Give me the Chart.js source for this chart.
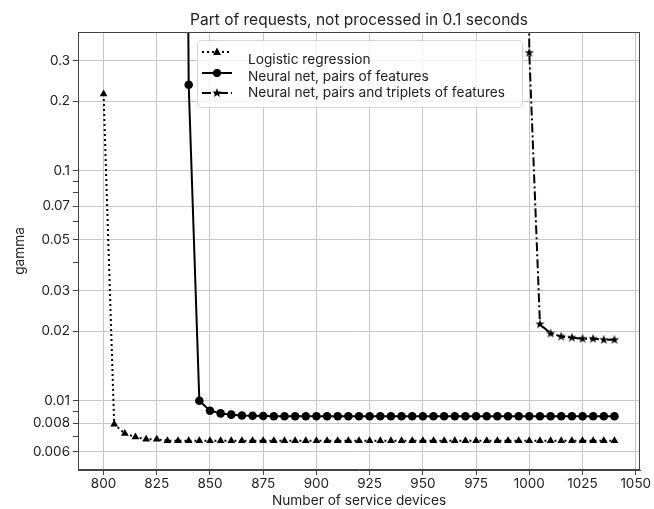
<!DOCTYPE html>
<html>
<head>
<meta charset="utf-8">
<script src="https://cdn.jsdelivr.net/npm/chart.js@4.4.0/dist/chart.umd.min.js"></script>
<style>
  html, body { margin: 0; padding: 0; background: #fff; }
  #wrap { width: 654px; height: 509px; }
</style>
</head>
<body>
<div id="wrap"><canvas id="chart" width="654" height="509"></canvas></div>
<script>
// Dados
const logisticX = [
  800, 805, 810, 815, 820, 825, 830, 835, 840, 845,
  850, 855, 860, 865, 870, 875, 880, 885, 890, 895,
  900, 905, 910, 915, 920, 925, 930, 935, 940, 945,
  950, 955, 960, 965, 970, 975, 980, 985, 990, 995,
  1000, 1005, 1010, 1015, 1020, 1025, 1030, 1035, 1040
];
const logisticY = [
  0.215, 0.0079, 0.0072, 0.00695, 0.0068, 0.0068, 0.0067, 0.0067, 0.0067, 0.0067,
  0.0067, 0.0067, 0.0067, 0.0067, 0.0067, 0.0067, 0.0067, 0.0067, 0.0067, 0.0067,
  0.0067, 0.0067, 0.0067, 0.0067, 0.0067, 0.0067, 0.0067, 0.0067, 0.0067, 0.0067,
  0.0067, 0.0067, 0.0067, 0.0067, 0.0067, 0.0067, 0.0067, 0.0067, 0.0067, 0.0067,
  0.0067, 0.0067, 0.0067, 0.0067, 0.0067, 0.0067, 0.0067, 0.0067, 0.0067
];

// o primeiro ponto fica muito acima do topo do gráfico (linha vertical)
const pairsX = [
  835, 840, 845, 850, 855, 860, 865, 870, 875, 880,
  885, 890, 895, 900, 905, 910, 915, 920, 925, 930,
  935, 940, 945, 950, 955, 960, 965, 970, 975, 980,
  985, 990, 995, 1000, 1005, 1010, 1015, 1020, 1025, 1030,
  1035, 1040
];
const pairsY = [
  1e6, 0.236, 0.0100, 0.00905, 0.00881, 0.0087, 0.00862, 0.0086, 0.00858, 0.00856,
  0.00856, 0.00856, 0.00856, 0.00856, 0.00856, 0.00856, 0.00856, 0.00856, 0.00856, 0.00856,
  0.00856, 0.00856, 0.00856, 0.00856, 0.00856, 0.00856, 0.00856, 0.00856, 0.00856, 0.00856,
  0.00856, 0.00856, 0.00856, 0.00856, 0.00856, 0.00856, 0.00856, 0.00856, 0.00856, 0.00856,
  0.00856, 0.00856
];

const tripletsX = [995, 1000, 1005, 1010, 1015, 1020, 1025, 1030, 1035, 1040];
const tripletsY = [1e6, 0.325, 0.0215, 0.0196, 0.0190, 0.0188, 0.0186, 0.0186, 0.0184, 0.0184];

const seriesLabels = [
  'Logistic regression',
  'Neural net, pairs of features',
  'Neural net, pairs and triplets of features'
];
const chartTitle = 'Part of requests, not processed in 0.1 seconds';

const xTicks = [800, 825, 850, 875, 900, 925, 950, 975, 1000, 1025, 1050];
const yMajorTicks = [0.006, 0.008, 0.01, 0.02, 0.03, 0.05, 0.07, 0.1, 0.2, 0.3];
const yMinorTicks = [0.007, 0.009, 0.04, 0.06, 0.08, 0.09];

const FONT = "Inter, 'Liberation Sans', Arial, sans-serif";
const COLORS = {
  line: '#000',
  grid: '#c8c8c8',
  axis: '#444',
  text: '#222'
};

function toPoints(xs, ys) {
  return xs.map((x, i) => ({ x: x, y: ys[i] }));
}

// estrela preenchida (como o marcador '*' do matplotlib)
function makeStar(r) {
  const size = Math.ceil(r * 2 + 2);
  const c = document.createElement('canvas');
  c.width = size;
  c.height = size;
  const ctx = c.getContext('2d');
  const cx = size / 2, cy = size / 2;
  ctx.beginPath();
  for (let i = 0; i < 10; i++) {
    const rad = i % 2 === 0 ? r : r * 0.4;
    const a = -Math.PI / 2 + i * Math.PI / 5;
    const px = cx + Math.cos(a) * rad;
    const py = cy + Math.sin(a) * rad;
    if (i === 0) ctx.moveTo(px, py); else ctx.lineTo(px, py);
  }
  ctx.closePath();
  ctx.fillStyle = '#000';
  ctx.fill();
  return c;
}
const starImg = makeStar(5);

// título centrado sobre a área do gráfico + moldura completa
const framePlugin = {
  id: 'frame',
  afterDatasetsDraw(chart) {
    const { ctx, chartArea: a } = chart;
    ctx.save();
    ctx.strokeStyle = COLORS.axis;
    ctx.lineWidth = 1;
    ctx.strokeRect(Math.round(a.left) + 0.5, Math.round(a.top) + 0.5,
      Math.round(a.right - a.left) - 1, Math.round(a.bottom - a.top) - 1);
    ctx.font = '15.5px ' + FONT;
    ctx.fillStyle = COLORS.text;
    ctx.textAlign = 'center';
    ctx.textBaseline = 'middle';
    ctx.fillText(chartTitle, (a.left + a.right) / 2, 20);
    ctx.restore();
  }
};

const legendPlugin = {
  id: 'insideLegend',
  afterDraw(chart) {
    const ctx = chart.ctx;
    const bx = 197, by = 40, bw = 325, bh = 67;
    ctx.save();
    ctx.beginPath();
    ctx.roundRect(bx + 0.5, by + 0.5, bw, bh, 3);
    ctx.fillStyle = 'rgba(255,255,255,0.8)';
    ctx.fill();
    ctx.strokeStyle = '#d6d6d6';
    ctx.lineWidth = 1;
    ctx.stroke();

    const handleY = [52, 73, 93];
    const textY = [60, 77, 93];
    const dashes = [[2, 3], [], [9, 3, 2, 3]];
    const x0 = 202, x1 = 232, xm = 217;

    for (let i = 0; i < 3; i++) {
      ctx.beginPath();
      ctx.setLineDash(dashes[i]);
      ctx.lineWidth = 2;
      ctx.strokeStyle = '#000';
      ctx.moveTo(x0, handleY[i]);
      ctx.lineTo(x1, handleY[i]);
      ctx.stroke();
      ctx.setLineDash([]);
      ctx.fillStyle = '#000';
      if (i === 0) {
        ctx.beginPath();
        ctx.moveTo(xm, handleY[i] - 4.5);
        ctx.lineTo(xm + 4, handleY[i] + 3);
        ctx.lineTo(xm - 4, handleY[i] + 3);
        ctx.closePath();
        ctx.fill();
      } else if (i === 1) {
        ctx.beginPath();
        ctx.arc(xm, handleY[i], 4, 0, Math.PI * 2);
        ctx.fill();
      } else {
        ctx.drawImage(starImg, xm - starImg.width / 2, handleY[i] - starImg.height / 2);
      }
      ctx.font = '13.7px ' + FONT;
      ctx.textBaseline = 'middle';
      ctx.fillStyle = COLORS.text;
      ctx.fillText(seriesLabels[i], 248, textY[i]);
    }
    ctx.restore();
  }
};

new Chart(document.getElementById('chart'), {
  type: 'line',
  data: {
    datasets: [
      {
        label: seriesLabels[0],
        data: toPoints(logisticX, logisticY),
        borderColor: COLORS.line,
        backgroundColor: COLORS.line,
        borderWidth: 2,
        borderDash: [2, 3],
        pointStyle: 'triangle',
        pointRadius: 4.5,
        pointBorderWidth: 0,
        tension: 0
      },
      {
        label: seriesLabels[1],
        data: toPoints(pairsX, pairsY),
        borderColor: COLORS.line,
        backgroundColor: COLORS.line,
        borderWidth: 2,
        pointStyle: 'circle',
        pointRadius: 4.3,
        pointBorderWidth: 0,
        tension: 0
      },
      {
        label: seriesLabels[2],
        data: toPoints(tripletsX, tripletsY),
        borderColor: COLORS.line,
        backgroundColor: COLORS.line,
        borderWidth: 2,
        borderDash: [9, 3, 2, 3],
        pointStyle: starImg,
        tension: 0
      }
    ]
  },
  options: {
    responsive: false,
    animation: false,
    layout: { padding: { left: 0, right: 14, top: 32, bottom: 0 } },
    plugins: {
      legend: { display: false },
      tooltip: { enabled: false },
      title: { display: false }
    },
    scales: {
      x: {
        type: 'linear',
        min: 788,
        max: 1052,
        afterBuildTicks: (scale) => {
          scale.ticks = xTicks.map(v => ({ value: v }));
        },
        afterFit: (scale) => { scale.height = 39; },
        grid: { color: COLORS.grid, tickColor: COLORS.axis, tickLength: 5 },
        border: { color: COLORS.axis },
        ticks: {
          autoSkip: false,
          maxRotation: 0,
          padding: 1,
          color: COLORS.text,
          font: { family: FONT, size: 13.5 },
          callback: (value) => String(value)
        },
        title: {
          display: true,
          text: 'Number of service devices',
          color: COLORS.text,
          font: { family: FONT, size: 13.7 },
          padding: { top: 0, bottom: 0 }
        }
      },
      y: {
        type: 'logarithmic',
        min: 0.005,
        max: 0.4,
        afterBuildTicks: (scale) => {
          scale.ticks = yMinorTicks.concat(yMajorTicks)
            .sort((a, b) => a - b)
            .map(v => ({ value: v }));
        },
        afterFit: (scale) => { scale.width = 78; },
        grid: {
          color: (ctx) => (ctx.tick && yMajorTicks.includes(ctx.tick.value)) ? COLORS.grid : 'rgba(0,0,0,0)',
          tickColor: COLORS.axis,
          tickLength: 5
        },
        border: { color: COLORS.axis },
        ticks: {
          autoSkip: false,
          padding: 3,
          color: COLORS.text,
          font: { family: FONT, size: 13.5 },
          callback: (value) => yMajorTicks.includes(value) ? String(value) : ''
        },
        title: {
          display: true,
          text: 'gamma',
          color: COLORS.text,
          font: { family: FONT, size: 13.7 },
          padding: { top: 12, bottom: 0 }
        }
      }
    }
  },
  plugins: [framePlugin, legendPlugin]
});
</script>
</body>
</html>
